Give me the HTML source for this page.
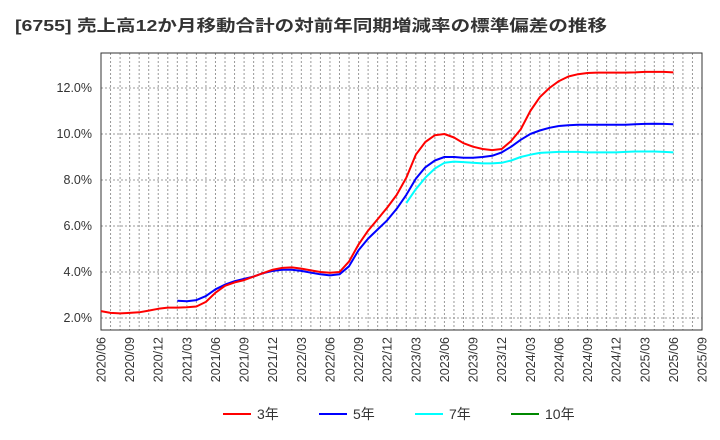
<!DOCTYPE html>
<html><head><meta charset="utf-8"><style>
body{margin:0;background:#fff;}
svg{display:block;font-family:"Liberation Sans","Noto Sans CJK JP",sans-serif;}
</style></head><body>
<svg id="s" width="720" height="440" xmlns="http://www.w3.org/2000/svg">
<text x="15" y="31" font-size="16" font-weight="bold" fill="#333" textLength="592" lengthAdjust="spacingAndGlyphs">[6755]  売上高12か月移動合計の対前年同期増減率の標準偏差の推移</text>
<g id="grid"></g>
<rect x="101" y="53" width="601" height="277" fill="none" stroke="#333" stroke-width="1"/>
<g id="lines"></g>
<g id="labels" font-size="12.5" fill="#333"></g>
<g font-size="14" fill="#333">
<line x1="223" y1="414" x2="251" y2="414" stroke="#f00" stroke-width="2"/><text x="257" y="419">3年</text>
<line x1="319" y1="414" x2="347" y2="414" stroke="#00f" stroke-width="2"/><text x="353" y="419">5年</text>
<line x1="415" y1="414" x2="443" y2="414" stroke="#0ff" stroke-width="2"/><text x="449" y="419">7年</text>
<line x1="511" y1="414" x2="539" y2="414" stroke="#080" stroke-width="2"/><text x="545" y="419">10年</text>
</g>
</svg>
<script>
var ns="http://www.w3.org/2000/svg";
function el(p,t,a,txt){var e=document.createElementNS(ns,t);for(var k in a)e.setAttribute(k,a[k]);if(txt)e.textContent=txt;document.getElementById(p).appendChild(e);return e;}
var X=function(i){return 101+i*601/63;}, Y=function(v){return 318-(v-2)*23;};
for(var i=1;i<63;i++)el("grid","line",{x1:X(i),x2:X(i),y1:53,y2:330,stroke:"#999","stroke-dasharray":"2,2","stroke-width":1});
[2,4,6,8,10,12].forEach(function(v){el("grid","line",{x1:101,x2:702,y1:Y(v),y2:Y(v),stroke:"#999","stroke-dasharray":"2,2"});
el("labels","text",{x:92,y:Y(v)+4,"text-anchor":"end"},v.toFixed(1)+"%");});
for(var i=0;i<=63;i+=3){var y=2020+Math.floor((i+5)/12),m=((i+5)%12)+1;var s=y+"/"+(m<10?"0":"")+m;
el("labels","text",{x:0,y:0,transform:"translate("+(X(i)+4.5)+",337) rotate(-90)","text-anchor":"end"},s);}
var red=[2.3,2.22,2.2,2.22,2.25,2.32,2.4,2.45,2.45,2.47,2.5,2.7,3.1,3.4,3.55,3.65,3.8,3.95,4.1,4.18,4.2,4.15,4.07,4.0,3.97,4.0,4.45,5.2,5.8,6.3,6.8,7.35,8.1,9.1,9.65,9.95,10.0,9.85,9.6,9.45,9.35,9.3,9.35,9.7,10.2,11.0,11.6,12.0,12.3,12.5,12.6,12.65,12.67,12.67,12.67,12.67,12.68,12.7,12.7,12.7,12.68];
var blue=[null,null,null,null,null,null,null,null,2.75,2.73,2.78,2.95,3.25,3.45,3.6,3.7,3.8,3.95,4.05,4.1,4.1,4.05,3.97,3.9,3.85,3.9,4.25,4.95,5.45,5.85,6.25,6.75,7.35,8.05,8.55,8.85,9.0,9.0,8.97,8.97,9.0,9.05,9.2,9.45,9.75,10.0,10.15,10.27,10.35,10.38,10.4,10.4,10.4,10.4,10.4,10.4,10.42,10.44,10.45,10.44,10.42];
var cyan=[];for(var i=0;i<32;i++)cyan.push(null);
cyan=cyan.concat([7.0,7.6,8.1,8.5,8.75,8.8,8.78,8.75,8.72,8.72,8.75,8.85,9.0,9.1,9.18,9.2,9.22,9.22,9.22,9.2,9.2,9.2,9.2,9.22,9.24,9.24,9.24,9.22,9.2]);
function draw(d,c){var p="";d.forEach(function(v,i){if(v==null)return;p+=(p?"L":"M")+X(i).toFixed(1)+","+Y(v).toFixed(1);});
el("lines","path",{d:p,fill:"none",stroke:c,"stroke-width":2,"stroke-linejoin":"round"});}
draw(cyan,"#0ff");draw(blue,"#00f");draw(red,"#f00");
</script>
</body></html>
